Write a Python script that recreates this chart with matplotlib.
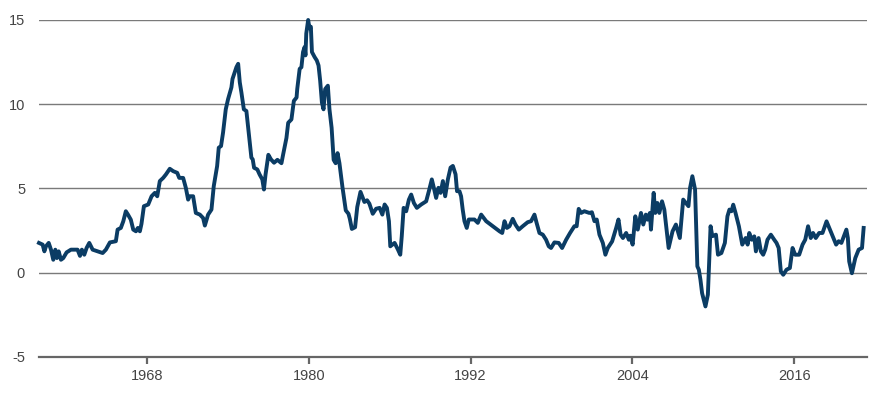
import matplotlib
matplotlib.use("Agg")
import matplotlib.pyplot as plt

# year-on-year inflation (%)
years = [
    1960.0, 1960.27, 1960.4, 1960.52, 1960.72, 1960.89, 1961.06, 1961.21, 1961.33, 1961.46,
    1961.63, 1961.8, 1962.05, 1962.37, 1962.86, 1963.04, 1963.18, 1963.36, 1963.53, 1963.73,
    1963.98, 1964.35, 1964.72, 1964.96, 1965.26, 1965.7, 1965.83, 1966.07, 1966.25, 1966.44,
    1966.6, 1966.81, 1966.99, 1967.19, 1967.33, 1967.48,
    1967.6, 1967.78, 1968.1, 1968.35, 1968.59, 1968.77, 1968.96, 1969.21, 1969.41, 1969.7,
    1969.95, 1970.25, 1970.4, 1970.69, 1970.89, 1971.06, 1971.18, 1971.43, 1971.63, 1971.93,
    1972.17, 1972.3, 1972.54, 1972.79, 1972.96, 1973.21, 1973.33, 1973.5, 1973.65, 1973.85,
    1974.02, 1974.27, 1974.35, 1974.64, 1974.77, 1974.89, 1975.01, 1975.19, 1975.38, 1975.58,
    1975.75, 1975.85, 1975.95, 1976.19, 1976.36, 1976.56, 1976.68, 1976.8, 1977.01, 1977.2,
    1977.43, 1977.68, 1977.98,
    1978.1, 1978.35, 1978.48, 1978.72, 1978.9, 1979.1, 1979.15, 1979.33, 1979.46, 1979.58,
    1979.7, 1979.76, 1979.82, 1979.96, 1980.06, 1980.16, 1980.24, 1980.44, 1980.6, 1980.73,
    1980.85, 1980.98, 1981.1, 1981.22, 1981.42, 1981.54, 1981.7, 1981.85, 1982.0, 1982.14,
    1982.28, 1982.5, 1982.75, 1982.95, 1983.05, 1983.2, 1983.44, 1983.6, 1983.84, 1984.13,
    1984.33, 1984.5, 1984.75, 1985.0,
    1985.26, 1985.46, 1985.63, 1985.8, 1985.95, 1986.05, 1986.37, 1986.62, 1986.79, 1986.9,
    1987.04, 1987.23, 1987.43, 1987.6, 1987.8, 1988.02, 1988.34, 1988.71, 1988.91, 1989.13,
    1989.28, 1989.45, 1989.62, 1989.78, 1989.95, 1990.12, 1990.32, 1990.52, 1990.69, 1990.89,
    1991.0, 1991.18, 1991.3, 1991.42, 1991.55, 1991.72, 1991.87, 1992.29, 1992.54, 1992.79,
    1993.16, 1993.65,
    1994.15, 1994.35, 1994.52, 1994.7, 1994.89, 1995.13, 1995.33, 1995.58, 1995.87, 1996.24,
    1996.49, 1996.74, 1996.9, 1997.11, 1997.36, 1997.6, 1997.8, 1997.97, 1998.22, 1998.54,
    1998.79, 1999.09, 1999.38, 1999.7, 1999.87, 2000.02, 2000.2, 2000.44, 2000.81, 2001.0,
    2001.19, 2001.36, 2001.56, 2001.81, 2002.0, 2002.18, 2002.5, 2002.8, 2002.97, 2003.13,
    2003.3, 2003.54, 2003.74,
    2003.85, 2004.02, 2004.22, 2004.4, 2004.64, 2004.81, 2005.0, 2005.12, 2005.3, 2005.38,
    2005.58, 2005.7, 2005.86, 2006.0, 2006.2, 2006.37, 2006.69, 2006.98, 2007.23, 2007.52,
    2007.77, 2007.97, 2008.16, 2008.28, 2008.45, 2008.65, 2008.82, 2008.93, 2009.05, 2009.17,
    2009.42, 2009.6, 2009.8, 2009.93, 2010.2, 2010.35, 2010.6, 2010.86, 2011.05, 2011.2,
    2011.35, 2011.48, 2011.65, 2011.9, 2012.15, 2012.4, 2012.55,
    2012.67, 2012.85, 2013.04, 2013.16, 2013.36, 2013.53, 2013.7, 2013.85, 2014.02, 2014.27,
    2014.52, 2014.69, 2014.85, 2015.01, 2015.19, 2015.43, 2015.68, 2015.88, 2016.07, 2016.37,
    2016.62, 2016.82, 2017.03, 2017.23, 2017.4, 2017.6, 2017.85, 2018.1, 2018.4, 2018.6,
    2018.86, 2019.11, 2019.3, 2019.5, 2019.87, 2019.98, 2020.08, 2020.28, 2020.53, 2020.78,
    2021.03, 2021.15,
]
inflation = [
    1.77, 1.67, 1.27, 1.57, 1.77, 1.37, 0.77, 1.37, 0.87, 1.27,
    0.77, 0.87, 1.21, 1.37, 1.37, 1.0, 1.37, 1.07, 1.47, 1.77,
    1.37, 1.27, 1.17, 1.37, 1.8, 1.87, 2.56, 2.66, 3.05, 3.65,
    3.45, 3.15, 2.56, 2.46, 2.66, 2.46,
    2.9, 3.95, 4.05, 4.54, 4.74, 4.54, 5.44, 5.63, 5.83, 6.17,
    6.03, 5.93, 5.63, 5.63, 5.04, 4.34, 4.54, 4.54, 3.55, 3.45,
    3.25, 2.8, 3.45, 3.75, 5.14, 6.33, 7.42, 7.52, 8.32, 9.7,
    10.3, 11.0, 11.5, 12.2, 12.4, 11.3, 10.7, 9.7, 9.6, 8.1,
    6.83, 6.73, 6.23, 6.13, 5.83, 5.54, 4.94, 5.83, 7.0, 6.73,
    6.53, 6.7, 6.5,
    7.0, 8.0, 8.9, 9.1, 10.2, 10.4, 10.9, 12.1, 12.2, 13.1,
    13.4, 12.9, 14.2, 15.0, 14.5, 14.6, 13.1, 12.8, 12.6, 12.3,
    11.4, 10.1, 9.7, 10.9, 11.1, 9.7, 8.6, 6.7, 6.5, 7.1,
    6.5, 5.1, 3.7, 3.5, 3.2, 2.6, 2.7, 3.9, 4.8, 4.2,
    4.3, 4.1, 3.5, 3.8,
    3.85, 3.45, 4.05, 3.85, 3.06, 1.57, 1.77, 1.37, 1.07, 2.16,
    3.85, 3.65, 4.34, 4.64, 4.14, 3.85, 4.05, 4.24, 4.84, 5.54,
    5.04, 4.44, 5.04, 4.74, 5.44, 4.54, 5.54, 6.24, 6.34, 5.84,
    4.84, 4.84, 4.54, 3.75, 3.06, 2.66, 3.16, 3.16, 2.96, 3.45,
    3.06, 2.76,
    2.46, 2.36, 3.06, 2.66, 2.76, 3.2, 2.86, 2.56, 2.76, 3.0,
    3.06, 3.45, 2.96, 2.36, 2.26, 1.96, 1.57, 1.47, 1.8, 1.77,
    1.47, 1.96, 2.36, 2.76, 2.76, 3.79, 3.55, 3.65, 3.55, 3.59,
    3.06, 3.16, 2.26, 1.77, 1.07, 1.47, 1.86, 2.66, 3.16, 2.26,
    2.06, 2.36, 1.96,
    2.2, 1.67, 3.35, 2.56, 3.55, 2.86, 3.45, 3.15, 3.55, 2.56,
    4.74, 3.55, 4.14, 3.55, 4.24, 3.75, 1.47, 2.46, 2.86, 2.06,
    4.34, 4.14, 3.95, 5.04, 5.73, 4.94, 0.38, 0.18, -0.42, -1.21,
    -2.0, -1.3, 2.76, 2.17, 2.26, 1.07, 1.17, 1.77, 3.35, 3.75,
    3.65, 4.04, 3.55, 2.76, 1.67, 2.06, 1.67,
    2.36, 1.96, 2.16, 1.27, 2.06, 1.27, 1.07, 1.37, 1.96, 2.26,
    1.96, 1.77, 1.47, 0.08, -0.12, 0.18, 0.28, 1.47, 1.07, 1.07,
    1.67, 1.96, 2.76, 2.06, 2.36, 2.06, 2.36, 2.36, 3.05, 2.66,
    2.16, 1.67, 1.87, 1.77, 2.56, 2.06, 0.67, -0.03, 0.87, 1.37,
    1.47, 2.66,
]

tick_years = [1968, 1980, 1992, 2004, 2016]
y_ticks = [-5, 0, 5, 10, 15]

plt.rcParams['font.family'] = ['Liberation Sans', 'DejaVu Sans']

fig = plt.figure(figsize=(8.74, 3.96), dpi=100)
ax = fig.add_axes([0.0446, 0.0985, 0.9474, 0.851])

# horizontal guide lines (the -5 one is the bottom spine)
for yv in y_ticks[1:]:
    ax.axhline(yv, color='#7a7a7a', lw=1.0, zorder=1)

ax.plot(years, inflation, color='#0b3c64', lw=2.8, solid_joinstyle='round',
        zorder=3, clip_on=False)

ax.set_xlim(1960.0, 2021.4)
ax.set_ylim(-5, 15)
ax.set_xticks(tick_years)
ax.set_xticklabels([str(t) for t in tick_years])
ax.set_yticks(y_ticks)
ax.set_yticklabels([str(t) for t in y_ticks])

for side in ['top', 'right', 'left']:
    ax.spines[side].set_visible(False)
ax.spines['bottom'].set_color('#666666')
ax.spines['bottom'].set_linewidth(1.6)

ax.tick_params(axis='x', direction='out', length=5, width=1.6, color='#666666',
               labelsize=10.5, labelcolor='#444444', pad=4)
ax.tick_params(axis='y', length=0, labelsize=10.5, labelcolor='#444444', pad=10)

fig.savefig('out.png', dpi=100)
